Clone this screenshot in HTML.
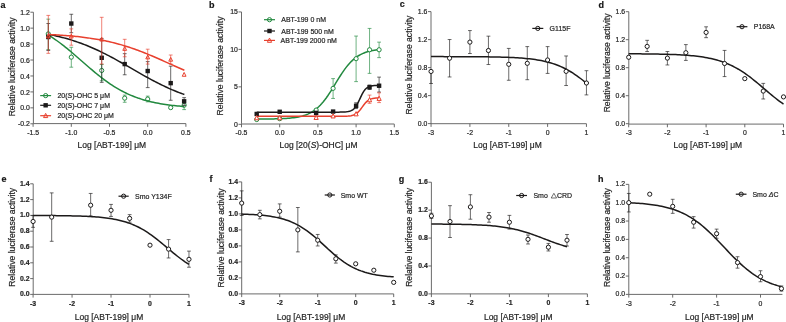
<!DOCTYPE html><html><head><meta charset="utf-8"><style>html,body{margin:0;padding:0;background:#fff;}svg{display:block;} text{stroke:#262626;stroke-width:0.2px;}#w{will-change:transform;width:786px;height:322px;overflow:hidden;background:#fff;}</style></head><body><div id="w">
<svg width="786" height="322" viewBox="0 0 786 322" font-family='"Liberation Sans", sans-serif'>
<rect width="786" height="322" fill="#fff"/>
<g>
<g stroke="#5a5a5a" stroke-width="0.9" fill="none">
<path d="M33.40,123.60 V12.21"/>
<path d="M33.40,123.60 H185.90" />
<path d="M33.10,123.60 v3.2"/>
<path d="M71.30,123.60 v3.2"/>
<path d="M109.50,123.60 v3.2"/>
<path d="M147.70,123.60 v3.2"/>
<path d="M185.90,123.60 v3.2"/>
<path d="M33.40,123.79 h-3.0"/>
<path d="M33.40,107.85 h-3.0"/>
<path d="M33.40,91.91 h-3.0"/>
<path d="M33.40,75.97 h-3.0"/>
<path d="M33.40,60.03 h-3.0"/>
<path d="M33.40,44.09 h-3.0"/>
<path d="M33.40,28.15 h-3.0"/>
<path d="M33.40,12.21 h-3.0"/>
</g>
<g fill="#262626" font-size="6.9" font-weight="normal" text-anchor="middle">
<text transform="translate(33.10,134.50) scale(1,1.1)">-1.5</text>
<text transform="translate(71.30,134.50) scale(1,1.1)">-1.0</text>
<text transform="translate(109.50,134.50) scale(1,1.1)">-0.5</text>
<text transform="translate(147.70,134.50) scale(1,1.1)">0.0</text>
<text transform="translate(185.90,134.50) scale(1,1.1)">0.5</text>
</g>
<g fill="#262626" font-size="6.9" font-weight="normal" text-anchor="end">
<text transform="translate(29.80,126.41) scale(1,1.1)">-0.2</text>
<text transform="translate(29.80,110.47) scale(1,1.1)">0.0</text>
<text transform="translate(29.80,94.53) scale(1,1.1)">0.2</text>
<text transform="translate(29.80,78.59) scale(1,1.1)">0.4</text>
<text transform="translate(29.80,62.65) scale(1,1.1)">0.6</text>
<text transform="translate(29.80,46.71) scale(1,1.1)">0.8</text>
<text transform="translate(29.80,30.77) scale(1,1.1)">1.0</text>
<text transform="translate(29.80,14.83) scale(1,1.1)">1.2</text>
</g>
<text transform="translate(14.90,66.90) rotate(-90)" text-anchor="middle" font-size="8.6" fill="#262626">Relative luciferase activity</text>
<text transform="translate(111.80,147.60) scale(1,1.1)" text-anchor="middle" font-size="8.5" fill="#262626">Log [ABT-199] μM</text>
<text x="0.60" y="7.80" font-size="9.0" font-weight="bold" fill="#111">a</text>
<g stroke="#22893f" stroke-width="0.65" fill="none">
<path d="M48.30,49.59 V19.14 M46.40,19.14 h3.8 M46.40,49.59 h3.8"/>
<path d="M71.30,67.20 V47.28 M69.40,47.28 h3.8 M69.40,67.20 h3.8"/>
<path d="M101.71,80.75 V64.49 M99.81,64.49 h3.8 M99.81,80.75 h3.8"/>
<path d="M124.70,102.27 V95.10 M122.80,95.10 h3.8 M122.80,102.27 h3.8"/>
<path d="M147.70,101.87 V96.13 M145.80,96.13 h3.8 M145.80,101.87 h3.8"/>
<path d="M184.14,109.60 V100.68 M182.24,100.68 h3.8 M182.24,109.60 h3.8"/>
</g>
<circle cx="48.30" cy="33.89" r="2.10" fill="#fff" stroke="#22893f" stroke-width="1.0"/>
<circle cx="71.30" cy="57.16" r="2.10" fill="#fff" stroke="#22893f" stroke-width="1.0"/>
<circle cx="101.71" cy="70.47" r="2.10" fill="#fff" stroke="#22893f" stroke-width="1.0"/>
<circle cx="124.70" cy="98.13" r="2.10" fill="#fff" stroke="#22893f" stroke-width="1.0"/>
<circle cx="147.70" cy="99.08" r="2.10" fill="#fff" stroke="#22893f" stroke-width="1.0"/>
<circle cx="170.70" cy="107.61" r="2.10" fill="#fff" stroke="#22893f" stroke-width="1.0"/>
<circle cx="184.14" cy="105.22" r="2.10" fill="#fff" stroke="#22893f" stroke-width="1.0"/>
<path d="M48.38,35.02 L50.10,36.09 L51.82,37.20 L53.54,38.34 L55.27,39.52 L56.99,40.74 L58.71,41.99 L60.43,43.27 L62.15,44.58 L63.87,45.92 L65.59,47.29 L67.32,48.68 L69.04,50.10 L70.76,51.54 L72.48,53.00 L74.20,54.47 L75.92,55.96 L77.64,57.45 L79.37,58.96 L81.09,60.47 L82.81,61.98 L84.53,63.49 L86.25,64.99 L87.97,66.49 L89.69,67.97 L91.42,69.44 L93.14,70.90 L94.86,72.34 L96.58,73.75 L98.30,75.14 L100.02,76.51 L101.74,77.85 L103.47,79.16 L105.19,80.43 L106.91,81.68 L108.63,82.89 L110.35,84.06 L112.07,85.21 L113.79,86.31 L115.52,87.38 L117.24,88.41 L118.96,89.40 L120.68,90.36 L122.40,91.28 L124.12,92.16 L125.84,93.01 L127.57,93.83 L129.29,94.60 L131.01,95.35 L132.73,96.06 L134.45,96.74 L136.17,97.38 L137.89,98.00 L139.62,98.58 L141.34,99.14 L143.06,99.67 L144.78,100.17 L146.50,100.65 L148.22,101.10 L149.94,101.53 L151.67,101.94 L153.39,102.33 L155.11,102.69 L156.83,103.03 L158.55,103.36 L160.27,103.67 L161.99,103.96 L163.71,104.23 L165.44,104.49 L167.16,104.74 L168.88,104.97 L170.60,105.19 L172.32,105.39 L174.04,105.58 L175.76,105.77 L177.49,105.94 L179.21,106.10 L180.93,106.25 L182.65,106.39 L184.37,106.53" stroke="#22893f" stroke-width="1.5" fill="none"/>
<g stroke="#1c1a1a" stroke-width="0.65" fill="none">
<path d="M48.30,50.47 V23.53 M46.40,23.53 h3.8 M46.40,50.47 h3.8"/>
<path d="M71.30,32.69 V14.28 M69.40,14.28 h3.8 M69.40,32.69 h3.8"/>
<path d="M101.71,82.35 V38.43 M99.81,38.43 h3.8 M99.81,82.35 h3.8"/>
<path d="M124.70,74.77 V53.65 M122.80,53.65 h3.8 M122.80,74.77 h3.8"/>
<path d="M147.70,87.61 V61.62 M145.80,61.62 h3.8 M145.80,87.61 h3.8"/>
<path d="M170.70,100.28 V66.17 M168.80,66.17 h3.8 M168.80,100.28 h3.8"/>
<path d="M184.14,105.46 V97.65 M182.24,97.65 h3.8 M182.24,105.46 h3.8"/>
</g>
<rect x="46.10" y="34.80" width="4.40" height="4.40" fill="#1c1a1a"/>
<rect x="69.10" y="21.33" width="4.40" height="4.40" fill="#1c1a1a"/>
<rect x="99.51" y="55.60" width="4.40" height="4.40" fill="#1c1a1a"/>
<rect x="122.50" y="61.89" width="4.40" height="4.40" fill="#1c1a1a"/>
<rect x="145.50" y="68.83" width="4.40" height="4.40" fill="#1c1a1a"/>
<rect x="168.50" y="80.94" width="4.40" height="4.40" fill="#1c1a1a"/>
<rect x="181.94" y="99.11" width="4.40" height="4.40" fill="#1c1a1a"/>
<path d="M48.38,34.33 L50.10,34.67 L51.82,35.02 L53.54,35.38 L55.27,35.76 L56.99,36.15 L58.71,36.56 L60.43,36.98 L62.15,37.42 L63.87,37.87 L65.59,38.34 L67.32,38.82 L69.04,39.32 L70.76,39.84 L72.48,40.38 L74.20,40.93 L75.92,41.50 L77.64,42.09 L79.37,42.70 L81.09,43.32 L82.81,43.96 L84.53,44.62 L86.25,45.30 L87.97,46.00 L89.69,46.71 L91.42,47.45 L93.14,48.20 L94.86,48.96 L96.58,49.75 L98.30,50.55 L100.02,51.37 L101.74,52.20 L103.47,53.05 L105.19,53.92 L106.91,54.80 L108.63,55.69 L110.35,56.60 L112.07,57.52 L113.79,58.45 L115.52,59.39 L117.24,60.34 L118.96,61.30 L120.68,62.26 L122.40,63.24 L124.12,64.22 L125.84,65.20 L127.57,66.19 L129.29,67.18 L131.01,68.17 L132.73,69.17 L134.45,70.16 L136.17,71.15 L137.89,72.14 L139.62,73.12 L141.34,74.10 L143.06,75.07 L144.78,76.04 L146.50,76.99 L148.22,77.94 L149.94,78.88 L151.67,79.81 L153.39,80.72 L155.11,81.62 L156.83,82.51 L158.55,83.39 L160.27,84.25 L161.99,85.09 L163.71,85.92 L165.44,86.74 L167.16,87.53 L168.88,88.31 L170.60,89.08 L172.32,89.82 L174.04,90.55 L175.76,91.26 L177.49,91.95 L179.21,92.62 L180.93,93.28 L182.65,93.91 L184.37,94.53" stroke="#1c1a1a" stroke-width="1.5" fill="none"/>
<g stroke="#e8402e" stroke-width="0.65" fill="none">
<path d="M48.30,53.34 V15.40 M46.40,15.40 h3.8 M46.40,53.34 h3.8"/>
<path d="M71.30,45.21 V28.87 M69.40,28.87 h3.8 M69.40,45.21 h3.8"/>
<path d="M101.71,64.01 V17.31 M99.81,17.31 h3.8 M99.81,64.01 h3.8"/>
<path d="M124.70,56.76 V39.31 M122.80,39.31 h3.8 M122.80,56.76 h3.8"/>
<path d="M147.70,64.09 V49.19 M145.80,49.19 h3.8 M145.80,64.09 h3.8"/>
<path d="M170.70,64.01 V55.01 M168.80,55.01 h3.8 M168.80,64.01 h3.8"/>
</g>
<path d="M48.30,34.03 L50.20,37.83 L46.40,37.83 Z" fill="none" stroke="#e8402e" stroke-width="1.0"/>
<path d="M71.30,34.19 L73.20,37.99 L69.40,37.99 Z" fill="none" stroke="#e8402e" stroke-width="1.0"/>
<path d="M101.71,37.22 L103.61,41.02 L99.81,41.02 Z" fill="none" stroke="#e8402e" stroke-width="1.0"/>
<path d="M124.70,46.54 L126.60,50.34 L122.80,50.34 Z" fill="none" stroke="#e8402e" stroke-width="1.0"/>
<path d="M147.70,55.07 L149.60,58.87 L145.80,58.87 Z" fill="none" stroke="#e8402e" stroke-width="1.0"/>
<path d="M170.70,57.38 L172.60,61.18 L168.80,61.18 Z" fill="none" stroke="#e8402e" stroke-width="1.0"/>
<path d="M184.14,72.45 L186.04,76.25 L182.24,76.25 Z" fill="none" stroke="#e8402e" stroke-width="1.0"/>
<path d="M48.38,34.46 L50.10,34.55 L51.82,34.64 L53.54,34.73 L55.27,34.83 L56.99,34.93 L58.71,35.04 L60.43,35.15 L62.15,35.27 L63.87,35.39 L65.59,35.52 L67.32,35.66 L69.04,35.80 L70.76,35.95 L72.48,36.11 L74.20,36.27 L75.92,36.44 L77.64,36.62 L79.37,36.81 L81.09,37.01 L82.81,37.21 L84.53,37.43 L86.25,37.65 L87.97,37.89 L89.69,38.13 L91.42,38.39 L93.14,38.65 L94.86,38.93 L96.58,39.22 L98.30,39.52 L100.02,39.83 L101.74,40.16 L103.47,40.50 L105.19,40.85 L106.91,41.21 L108.63,41.59 L110.35,41.99 L112.07,42.39 L113.79,42.82 L115.52,43.25 L117.24,43.70 L118.96,44.17 L120.68,44.65 L122.40,45.15 L124.12,45.66 L125.84,46.19 L127.57,46.73 L129.29,47.29 L131.01,47.86 L132.73,48.45 L134.45,49.05 L136.17,49.67 L137.89,50.30 L139.62,50.95 L141.34,51.61 L143.06,52.28 L144.78,52.96 L146.50,53.65 L148.22,54.36 L149.94,55.08 L151.67,55.80 L153.39,56.54 L155.11,57.28 L156.83,58.03 L158.55,58.78 L160.27,59.55 L161.99,60.31 L163.71,61.08 L165.44,61.85 L167.16,62.62 L168.88,63.39 L170.60,64.17 L172.32,64.93 L174.04,65.70 L175.76,66.46 L177.49,67.22 L179.21,67.98 L180.93,68.72 L182.65,69.46 L184.37,70.19" stroke="#e8402e" stroke-width="1.5" fill="none"/>
<path d="M40.20,95.60 H51.10" stroke="#22893f" stroke-width="1.2"/>
<circle cx="45.65" cy="95.60" r="2.10" fill="none" stroke="#22893f" stroke-width="1.0"/>
<text transform="translate(57.40,98.10) scale(1,1.1)" font-size="7" fill="#262626">20(<tspan style="font-style:italic">S</tspan>)-OHC 5 μM</text>
<path d="M40.20,105.30 H51.10" stroke="#1c1a1a" stroke-width="1.2"/>
<rect x="43.45" y="103.10" width="4.40" height="4.40" fill="#1c1a1a"/>
<text transform="translate(57.40,107.80) scale(1,1.1)" font-size="7" fill="#262626">20(<tspan style="font-style:italic">S</tspan>)-OHC 7 μM</text>
<path d="M40.20,115.70 H51.10" stroke="#e8402e" stroke-width="1.2"/>
<path d="M45.65,113.39 L47.75,117.59 L43.55,117.59 Z" fill="none" stroke="#e8402e" stroke-width="1.0"/>
<text transform="translate(57.40,118.20) scale(1,1.1)" font-size="7" fill="#262626">20(<tspan style="font-style:italic">S</tspan>)-OHC 20 μM</text>
<g stroke="#5a5a5a" stroke-width="0.9" fill="none">
<path d="M241.50,124.10 V11.95"/>
<path d="M241.50,124.10 H394.30" stroke="#9a9a9a" stroke-width="1.5"/>
<path d="M241.50,124.10 v3.2"/>
<path d="M279.70,124.10 v3.2"/>
<path d="M317.90,124.10 v3.2"/>
<path d="M356.10,124.10 v3.2"/>
<path d="M394.30,124.10 v3.2"/>
<path d="M241.50,124.30 h-3.0"/>
<path d="M241.50,86.85 h-3.0"/>
<path d="M241.50,49.40 h-3.0"/>
<path d="M241.50,11.95 h-3.0"/>
</g>
<g fill="#262626" font-size="6.9" font-weight="normal" text-anchor="middle">
<text transform="translate(241.50,135.00) scale(1,1.1)">-0.5</text>
<text transform="translate(279.70,135.00) scale(1,1.1)">0.0</text>
<text transform="translate(317.90,135.00) scale(1,1.1)">0.5</text>
<text transform="translate(356.10,135.00) scale(1,1.1)">1.0</text>
<text transform="translate(394.30,135.00) scale(1,1.1)">1.5</text>
</g>
<g fill="#262626" font-size="6.9" font-weight="normal" text-anchor="end">
<text transform="translate(237.90,126.78) scale(1,1.1)">0</text>
<text transform="translate(237.90,89.33) scale(1,1.1)">5</text>
<text transform="translate(237.90,51.88) scale(1,1.1)">10</text>
<text transform="translate(237.90,14.43) scale(1,1.1)">15</text>
</g>
<text transform="translate(223.30,66.00) rotate(-90)" text-anchor="middle" font-size="8.6" fill="#262626">Relative luciferase activity</text>
<text transform="translate(318.50,147.60) scale(1,1.1)" text-anchor="middle" font-size="8.5" fill="#262626">Log [20(<tspan style="font-style:italic">S</tspan>)-OHC] μM</text>
<text x="209.00" y="7.60" font-size="9.0" font-weight="bold" fill="#111">b</text>
<g stroke="#22893f" stroke-width="0.65" fill="none">
<path d="M333.10,98.46 V78.61 M331.20,78.61 h3.8 M331.20,98.46 h3.8"/>
<path d="M356.10,81.61 V36.07 M354.20,36.07 h3.8 M354.20,81.61 h3.8"/>
<path d="M369.55,73.37 V28.43 M367.65,28.43 h3.8 M367.65,73.37 h3.8"/>
<path d="M379.10,57.64 V42.13 M377.20,42.13 h3.8 M377.20,57.64 h3.8"/>
</g>
<g stroke="#1c1a1a" stroke-width="0.65" fill="none">
<path d="M356.10,108.57 V102.80 M354.20,102.80 h3.8 M354.20,108.57 h3.8"/>
<path d="M369.55,89.47 V84.98 M367.65,84.98 h3.8 M367.65,89.47 h3.8"/>
<path d="M379.10,92.09 V77.11 M377.20,77.11 h3.8 M377.20,92.09 h3.8"/>
</g>
<g stroke="#e8402e" stroke-width="0.65" fill="none">
<path d="M369.55,103.33 V95.09 M367.65,95.09 h3.8 M367.65,103.33 h3.8"/>
<path d="M379.10,102.58 V92.84 M377.20,92.84 h3.8 M377.20,102.58 h3.8"/>
</g>
<path d="M256.78,119.08 L258.33,119.07 L259.87,119.06 L261.42,119.05 L262.97,119.04 L264.52,119.03 L266.06,119.01 L267.61,119.00 L269.16,118.98 L270.71,118.95 L272.25,118.93 L273.80,118.90 L275.35,118.86 L276.90,118.82 L278.44,118.77 L279.99,118.72 L281.54,118.66 L283.08,118.59 L284.63,118.50 L286.18,118.41 L287.73,118.30 L289.27,118.17 L290.82,118.03 L292.37,117.86 L293.92,117.67 L295.46,117.45 L297.01,117.20 L298.56,116.91 L300.11,116.57 L301.65,116.20 L303.20,115.76 L304.75,115.27 L306.29,114.71 L307.84,114.07 L309.39,113.35 L310.94,112.54 L312.48,111.63 L314.03,110.61 L315.58,109.47 L317.13,108.20 L318.67,106.80 L320.22,105.27 L321.77,103.59 L323.32,101.77 L324.86,99.81 L326.41,97.73 L327.96,95.52 L329.51,93.20 L331.05,90.79 L332.60,88.31 L334.15,85.78 L335.69,83.23 L337.24,80.69 L338.79,78.18 L340.34,75.73 L341.88,73.35 L343.43,71.08 L344.98,68.92 L346.53,66.88 L348.07,64.98 L349.62,63.22 L351.17,61.60 L352.72,60.12 L354.26,58.78 L355.81,57.57 L357.36,56.48 L358.90,55.50 L360.45,54.63 L362.00,53.86 L363.55,53.18 L365.09,52.57 L366.64,52.04 L368.19,51.58 L369.74,51.17 L371.28,50.81 L372.83,50.50 L374.38,50.22 L375.93,49.98 L377.47,49.77 L379.02,49.59" stroke="#22893f" stroke-width="1.5" fill="none"/>
<path d="M256.78,112.17 L258.33,112.17 L259.87,112.17 L261.42,112.17 L262.97,112.17 L264.52,112.17 L266.06,112.17 L267.61,112.17 L269.16,112.17 L270.71,112.17 L272.25,112.17 L273.80,112.17 L275.35,112.17 L276.90,112.17 L278.44,112.17 L279.99,112.17 L281.54,112.17 L283.08,112.17 L284.63,112.17 L286.18,112.17 L287.73,112.17 L289.27,112.17 L290.82,112.17 L292.37,112.17 L293.92,112.17 L295.46,112.17 L297.01,112.17 L298.56,112.17 L300.11,112.17 L301.65,112.17 L303.20,112.17 L304.75,112.17 L306.29,112.17 L307.84,112.17 L309.39,112.17 L310.94,112.17 L312.48,112.17 L314.03,112.17 L315.58,112.17 L317.13,112.17 L318.67,112.17 L320.22,112.17 L321.77,112.17 L323.32,112.17 L324.86,112.17 L326.41,112.17 L327.96,112.17 L329.51,112.16 L331.05,112.16 L332.60,112.16 L334.15,112.16 L335.69,112.16 L337.24,112.15 L338.79,112.14 L340.34,112.12 L341.88,112.09 L343.43,112.04 L344.98,111.96 L346.53,111.82 L348.07,111.60 L349.62,111.25 L351.17,110.68 L352.72,109.80 L354.26,108.47 L355.81,106.57 L357.36,104.03 L358.90,100.95 L360.45,97.61 L362.00,94.40 L363.55,91.67 L365.09,89.57 L366.64,88.08 L368.19,87.07 L369.74,86.42 L371.28,86.01 L372.83,85.75 L374.38,85.60 L375.93,85.50 L377.47,85.44 L379.02,85.41" stroke="#1c1a1a" stroke-width="1.5" fill="none"/>
<path d="M256.78,116.29 L258.33,116.29 L259.87,116.29 L261.42,116.29 L262.97,116.29 L264.52,116.29 L266.06,116.29 L267.61,116.29 L269.16,116.29 L270.71,116.29 L272.25,116.29 L273.80,116.29 L275.35,116.29 L276.90,116.29 L278.44,116.29 L279.99,116.29 L281.54,116.29 L283.08,116.29 L284.63,116.29 L286.18,116.29 L287.73,116.29 L289.27,116.29 L290.82,116.29 L292.37,116.29 L293.92,116.29 L295.46,116.29 L297.01,116.29 L298.56,116.29 L300.11,116.29 L301.65,116.29 L303.20,116.29 L304.75,116.29 L306.29,116.29 L307.84,116.29 L309.39,116.29 L310.94,116.29 L312.48,116.29 L314.03,116.29 L315.58,116.29 L317.13,116.29 L318.67,116.29 L320.22,116.29 L321.77,116.29 L323.32,116.29 L324.86,116.29 L326.41,116.29 L327.96,116.29 L329.51,116.28 L331.05,116.28 L332.60,116.28 L334.15,116.28 L335.69,116.28 L337.24,116.28 L338.79,116.27 L340.34,116.26 L341.88,116.25 L343.43,116.22 L344.98,116.19 L346.53,116.13 L348.07,116.03 L349.62,115.89 L351.17,115.66 L352.72,115.30 L354.26,114.77 L355.81,113.98 L357.36,112.86 L358.90,111.36 L360.45,109.50 L362.00,107.40 L363.55,105.26 L365.09,103.29 L366.64,101.65 L368.19,100.40 L369.74,99.49 L371.28,98.87 L372.83,98.45 L374.38,98.18 L375.93,98.01 L377.47,97.90 L379.02,97.83" stroke="#e8402e" stroke-width="1.5" fill="none"/>
<circle cx="256.70" cy="119.51" r="2.10" fill="#fff" stroke="#22893f" stroke-width="1.0"/>
<circle cx="279.70" cy="118.68" r="2.10" fill="#fff" stroke="#22893f" stroke-width="1.0"/>
<circle cx="316.14" cy="110.07" r="2.10" fill="#fff" stroke="#22893f" stroke-width="1.0"/>
<circle cx="333.10" cy="88.35" r="2.10" fill="#fff" stroke="#22893f" stroke-width="1.0"/>
<circle cx="356.10" cy="58.69" r="2.10" fill="#fff" stroke="#22893f" stroke-width="1.0"/>
<circle cx="369.55" cy="49.77" r="2.10" fill="#fff" stroke="#22893f" stroke-width="1.0"/>
<circle cx="379.10" cy="49.77" r="2.10" fill="#fff" stroke="#22893f" stroke-width="1.0"/>
<rect x="254.50" y="111.76" width="4.40" height="4.40" fill="#1c1a1a"/>
<rect x="277.50" y="109.59" width="4.40" height="4.40" fill="#1c1a1a"/>
<rect x="313.94" y="110.72" width="4.40" height="4.40" fill="#1c1a1a"/>
<rect x="330.90" y="109.37" width="4.40" height="4.40" fill="#1c1a1a"/>
<rect x="353.90" y="103.60" width="4.40" height="4.40" fill="#1c1a1a"/>
<rect x="367.35" y="85.02" width="4.40" height="4.40" fill="#1c1a1a"/>
<rect x="376.90" y="83.53" width="4.40" height="4.40" fill="#1c1a1a"/>
<path d="M256.70,115.55 L258.80,119.75 L254.60,119.75 Z" fill="#fff" stroke="#e8402e" stroke-width="1.0"/>
<path d="M279.70,115.55 L281.80,119.75 L277.60,119.75 Z" fill="#fff" stroke="#e8402e" stroke-width="1.0"/>
<path d="M316.14,115.25 L318.24,119.45 L314.04,119.45 Z" fill="#fff" stroke="#e8402e" stroke-width="1.0"/>
<path d="M333.10,113.75 L335.20,117.95 L331.00,117.95 Z" fill="#fff" stroke="#e8402e" stroke-width="1.0"/>
<path d="M356.10,111.65 L358.20,115.85 L354.00,115.85 Z" fill="#fff" stroke="#e8402e" stroke-width="1.0"/>
<path d="M369.55,97.57 L371.65,101.77 L367.45,101.77 Z" fill="#fff" stroke="#e8402e" stroke-width="1.0"/>
<path d="M379.10,96.22 L381.20,100.42 L377.00,100.42 Z" fill="#fff" stroke="#e8402e" stroke-width="1.0"/>
<path d="M264.00,19.70 H275.00" stroke="#22893f" stroke-width="1.2"/>
<circle cx="269.50" cy="19.70" r="2.10" fill="none" stroke="#22893f" stroke-width="1.0"/>
<text transform="translate(281.30,22.20) scale(1,1.1)" font-size="7" fill="#262626">ABT-199 0 nM</text>
<path d="M264.00,31.00 H275.00" stroke="#1c1a1a" stroke-width="1.2"/>
<rect x="267.30" y="28.80" width="4.40" height="4.40" fill="#1c1a1a"/>
<text transform="translate(281.30,33.50) scale(1,1.1)" font-size="7" fill="#262626">ABT-199 500 nM</text>
<path d="M264.00,40.40 H275.00" stroke="#e8402e" stroke-width="1.2"/>
<path d="M269.50,38.09 L271.60,42.29 L267.40,42.29 Z" fill="none" stroke="#e8402e" stroke-width="1.0"/>
<text transform="translate(280.60,42.90) scale(1,1.1)" font-size="7" fill="#262626">ABT-199 2000 nM</text>
<g stroke="#5a5a5a" stroke-width="0.9" fill="none">
<path d="M431.00,123.70 V11.60"/>
<path d="M431.00,123.70 H586.45" />
<path d="M431.05,123.70 v3.2"/>
<path d="M469.90,123.70 v3.2"/>
<path d="M508.75,123.70 v3.2"/>
<path d="M547.60,123.70 v3.2"/>
<path d="M586.45,123.70 v3.2"/>
<path d="M431.00,123.60 h-3.0"/>
<path d="M431.00,95.60 h-3.0"/>
<path d="M431.00,67.60 h-3.0"/>
<path d="M431.00,39.60 h-3.0"/>
<path d="M431.00,11.60 h-3.0"/>
</g>
<g fill="#262626" font-size="6.9" font-weight="normal" text-anchor="middle">
<text transform="translate(431.05,134.60) scale(1,1.1)">-3</text>
<text transform="translate(469.90,134.60) scale(1,1.1)">-2</text>
<text transform="translate(508.75,134.60) scale(1,1.1)">-1</text>
<text transform="translate(547.60,134.60) scale(1,1.1)">0</text>
<text transform="translate(586.45,134.60) scale(1,1.1)">1</text>
</g>
<g fill="#262626" font-size="6.9" font-weight="normal" text-anchor="end">
<text transform="translate(427.40,125.53) scale(1,1.1)">0.0</text>
<text transform="translate(427.40,97.53) scale(1,1.1)">0.4</text>
<text transform="translate(427.40,69.53) scale(1,1.1)">0.8</text>
<text transform="translate(427.40,41.53) scale(1,1.1)">1.2</text>
<text transform="translate(427.40,13.53) scale(1,1.1)">1.6</text>
</g>
<text transform="translate(412.40,65.10) rotate(-90)" text-anchor="middle" font-size="8.6" fill="#262626">Relative luciferase activity</text>
<text transform="translate(507.50,147.60) scale(1,1.1)" text-anchor="middle" font-size="8.5" fill="#262626">Log [ABT-199] μM</text>
<text x="399.80" y="7.40" font-size="9.0" font-weight="bold" fill="#111">c</text>
<g stroke="#1c1a1a" stroke-width="0.65" fill="none">
<path d="M431.05,83.49 V71.45 M429.15,71.45 h3.8 M429.15,83.49 h3.8"/>
<path d="M449.58,76.98 V39.53 M447.68,39.53 h3.8 M447.68,76.98 h3.8"/>
<path d="M469.90,53.53 V30.57 M468.00,30.57 h3.8 M468.00,53.53 h3.8"/>
<path d="M488.43,64.52 V36.17 M486.53,36.17 h3.8 M486.53,64.52 h3.8"/>
<path d="M508.75,80.27 V48.42 M506.85,48.42 h3.8 M506.85,80.27 h3.8"/>
<path d="M527.28,79.71 V46.60 M525.38,46.60 h3.8 M525.38,79.71 h3.8"/>
<path d="M547.60,73.41 V46.60 M545.70,46.60 h3.8 M545.70,73.41 h3.8"/>
<path d="M566.13,85.52 V55.98 M564.23,55.98 h3.8 M564.23,85.52 h3.8"/>
<path d="M586.45,94.90 V70.68 M584.55,70.68 h3.8 M584.55,94.90 h3.8"/>
</g>
<path d="M431.05,56.61 L433.02,56.61 L434.98,56.61 L436.95,56.62 L438.92,56.62 L440.89,56.62 L442.85,56.62 L444.82,56.63 L446.79,56.63 L448.75,56.63 L450.72,56.64 L452.69,56.64 L454.66,56.65 L456.62,56.65 L458.59,56.66 L460.56,56.66 L462.52,56.67 L464.49,56.68 L466.46,56.69 L468.42,56.70 L470.39,56.71 L472.36,56.72 L474.33,56.73 L476.29,56.75 L478.26,56.76 L480.23,56.78 L482.19,56.80 L484.16,56.82 L486.13,56.84 L488.10,56.87 L490.06,56.90 L492.03,56.93 L494.00,56.97 L495.96,57.01 L497.93,57.05 L499.90,57.10 L501.87,57.15 L503.83,57.21 L505.80,57.28 L507.77,57.35 L509.73,57.43 L511.70,57.52 L513.67,57.61 L515.63,57.72 L517.60,57.84 L519.57,57.97 L521.54,58.11 L523.50,58.27 L525.47,58.44 L527.44,58.63 L529.40,58.84 L531.37,59.07 L533.34,59.33 L535.31,59.61 L537.27,59.91 L539.24,60.25 L541.21,60.61 L543.17,61.01 L545.14,61.45 L547.11,61.93 L549.08,62.45 L551.04,63.02 L553.01,63.63 L554.98,64.29 L556.94,65.01 L558.91,65.79 L560.88,66.62 L562.84,67.52 L564.81,68.48 L566.78,69.51 L568.75,70.60 L570.71,71.75 L572.68,72.98 L574.65,74.26 L576.61,75.62 L578.58,77.03 L580.55,78.50 L582.52,80.02 L584.48,81.59 L586.45,83.20" stroke="#1c1a1a" stroke-width="1.5" fill="none"/>
<circle cx="431.05" cy="71.45" r="2.10" fill="#fff" stroke="#1c1a1a" stroke-width="1.0"/>
<circle cx="449.58" cy="58.22" r="2.10" fill="#fff" stroke="#1c1a1a" stroke-width="1.0"/>
<circle cx="469.90" cy="42.12" r="2.10" fill="#fff" stroke="#1c1a1a" stroke-width="1.0"/>
<circle cx="488.43" cy="50.52" r="2.10" fill="#fff" stroke="#1c1a1a" stroke-width="1.0"/>
<circle cx="508.75" cy="64.31" r="2.10" fill="#fff" stroke="#1c1a1a" stroke-width="1.0"/>
<circle cx="527.28" cy="63.33" r="2.10" fill="#fff" stroke="#1c1a1a" stroke-width="1.0"/>
<circle cx="547.60" cy="59.97" r="2.10" fill="#fff" stroke="#1c1a1a" stroke-width="1.0"/>
<circle cx="566.13" cy="71.38" r="2.10" fill="#fff" stroke="#1c1a1a" stroke-width="1.0"/>
<circle cx="586.45" cy="83.00" r="2.10" fill="#fff" stroke="#1c1a1a" stroke-width="1.0"/>
<path d="M532.30,28.40 H543.30" stroke="#1c1a1a" stroke-width="1.2"/>
<circle cx="537.80" cy="28.40" r="2.10" fill="none" stroke="#1c1a1a" stroke-width="1.0"/>
<text transform="translate(549.60,30.90) scale(1,1.1)" font-size="7" fill="#262626">G115F</text>
<g stroke="#5a5a5a" stroke-width="0.9" fill="none">
<path d="M628.80,124.10 V11.70"/>
<path d="M628.80,124.10 H783.50" />
<path d="M628.70,124.10 v3.2"/>
<path d="M667.40,124.10 v3.2"/>
<path d="M706.10,124.10 v3.2"/>
<path d="M744.80,124.10 v3.2"/>
<path d="M783.50,124.10 v3.2"/>
<path d="M628.80,123.70 h-3.0"/>
<path d="M628.80,95.70 h-3.0"/>
<path d="M628.80,67.70 h-3.0"/>
<path d="M628.80,39.70 h-3.0"/>
<path d="M628.80,11.70 h-3.0"/>
</g>
<g fill="#262626" font-size="6.9" font-weight="normal" text-anchor="middle">
<text transform="translate(628.70,135.00) scale(1,1.1)">-3</text>
<text transform="translate(667.40,135.00) scale(1,1.1)">-2</text>
<text transform="translate(706.10,135.00) scale(1,1.1)">-1</text>
<text transform="translate(744.80,135.00) scale(1,1.1)">0</text>
<text transform="translate(783.50,135.00) scale(1,1.1)">1</text>
</g>
<g fill="#262626" font-size="6.9" font-weight="normal" text-anchor="end">
<text transform="translate(625.20,125.63) scale(1,1.1)">0.0</text>
<text transform="translate(625.20,97.63) scale(1,1.1)">0.4</text>
<text transform="translate(625.20,69.63) scale(1,1.1)">0.8</text>
<text transform="translate(625.20,41.63) scale(1,1.1)">1.2</text>
<text transform="translate(625.20,13.63) scale(1,1.1)">1.6</text>
</g>
<text transform="translate(609.90,62.90) rotate(-90)" text-anchor="middle" font-size="8.6" fill="#262626">Relative luciferase activity</text>
<text transform="translate(707.80,147.60) scale(1,1.1)" text-anchor="middle" font-size="8.5" fill="#262626">Log [ABT-199] μM</text>
<text x="598.40" y="7.70" font-size="9.0" font-weight="bold" fill="#111">d</text>
<g stroke="#1c1a1a" stroke-width="0.65" fill="none">
<path d="M647.16,51.53 V40.33 M645.26,40.33 h3.8 M645.26,51.53 h3.8"/>
<path d="M667.40,64.97 V51.53 M665.50,51.53 h3.8 M665.50,64.97 h3.8"/>
<path d="M685.86,60.42 V44.60 M683.96,44.60 h3.8 M683.96,60.42 h3.8"/>
<path d="M706.10,37.67 V26.82 M704.20,26.82 h3.8 M704.20,37.67 h3.8"/>
<path d="M724.56,76.59 V50.41 M722.66,50.41 h3.8 M722.66,76.59 h3.8"/>
<path d="M763.26,98.99 V83.38 M761.36,83.38 h3.8 M761.36,98.99 h3.8"/>
</g>
<path d="M628.70,53.79 L630.66,53.80 L632.62,53.81 L634.58,53.83 L636.54,53.84 L638.50,53.85 L640.46,53.87 L642.42,53.88 L644.38,53.90 L646.34,53.92 L648.29,53.94 L650.25,53.97 L652.21,54.00 L654.17,54.03 L656.13,54.06 L658.09,54.09 L660.05,54.13 L662.01,54.18 L663.97,54.22 L665.93,54.28 L667.89,54.33 L669.85,54.40 L671.81,54.47 L673.77,54.54 L675.73,54.62 L677.69,54.72 L679.65,54.82 L681.61,54.93 L683.57,55.05 L685.53,55.18 L687.48,55.32 L689.44,55.48 L691.40,55.66 L693.36,55.85 L695.32,56.05 L697.28,56.28 L699.24,56.53 L701.20,56.80 L703.16,57.10 L705.12,57.42 L707.08,57.77 L709.04,58.15 L711.00,58.57 L712.96,59.02 L714.92,59.51 L716.88,60.04 L718.84,60.62 L720.80,61.23 L722.76,61.90 L724.72,62.62 L726.67,63.39 L728.63,64.22 L730.59,65.10 L732.55,66.04 L734.51,67.04 L736.47,68.11 L738.43,69.23 L740.39,70.42 L742.35,71.66 L744.31,72.97 L746.27,74.33 L748.23,75.75 L750.19,77.22 L752.15,78.74 L754.11,80.29 L756.07,81.89 L758.03,83.51 L759.99,85.16 L761.95,86.82 L763.91,88.49 L765.86,90.16 L767.82,91.83 L769.78,93.48 L771.74,95.11 L773.70,96.71 L775.66,98.28 L777.62,99.81 L779.58,101.29 L781.54,102.72 L783.50,104.09" stroke="#1c1a1a" stroke-width="1.5" fill="none"/>
<circle cx="628.70" cy="57.27" r="2.10" fill="#fff" stroke="#1c1a1a" stroke-width="1.0"/>
<circle cx="647.16" cy="46.42" r="2.10" fill="#fff" stroke="#1c1a1a" stroke-width="1.0"/>
<circle cx="667.40" cy="58.11" r="2.10" fill="#fff" stroke="#1c1a1a" stroke-width="1.0"/>
<circle cx="685.86" cy="52.72" r="2.10" fill="#fff" stroke="#1c1a1a" stroke-width="1.0"/>
<circle cx="706.10" cy="32.42" r="2.10" fill="#fff" stroke="#1c1a1a" stroke-width="1.0"/>
<circle cx="724.56" cy="63.50" r="2.10" fill="#fff" stroke="#1c1a1a" stroke-width="1.0"/>
<circle cx="744.80" cy="78.62" r="2.10" fill="#fff" stroke="#1c1a1a" stroke-width="1.0"/>
<circle cx="763.26" cy="91.08" r="2.10" fill="#fff" stroke="#1c1a1a" stroke-width="1.0"/>
<circle cx="783.50" cy="96.89" r="2.10" fill="#fff" stroke="#1c1a1a" stroke-width="1.0"/>
<path d="M736.60,26.70 H747.40" stroke="#1c1a1a" stroke-width="1.2"/>
<circle cx="742.00" cy="26.70" r="2.10" fill="none" stroke="#1c1a1a" stroke-width="1.0"/>
<text transform="translate(753.80,29.20) scale(1,1.1)" font-size="7" fill="#262626">P168A</text>
<g stroke="#5a5a5a" stroke-width="0.9" fill="none">
<path d="M33.20,294.40 V183.80"/>
<path d="M33.20,294.40 H188.97" />
<path d="M33.09,294.40 v3.2"/>
<path d="M72.06,294.40 v3.2"/>
<path d="M111.03,294.40 v3.2"/>
<path d="M150.00,294.40 v3.2"/>
<path d="M188.97,294.40 v3.2"/>
<path d="M33.20,294.40 h-3.0"/>
<path d="M33.20,278.60 h-3.0"/>
<path d="M33.20,262.80 h-3.0"/>
<path d="M33.20,247.00 h-3.0"/>
<path d="M33.20,231.20 h-3.0"/>
<path d="M33.20,215.40 h-3.0"/>
<path d="M33.20,199.60 h-3.0"/>
<path d="M33.20,183.80 h-3.0"/>
</g>
<g fill="#262626" font-size="6.9" font-weight="bold" text-anchor="middle">
<text transform="translate(33.09,305.80) scale(1,1.1)">-3</text>
<text transform="translate(72.06,305.80) scale(1,1.1)">-2</text>
<text transform="translate(111.03,305.80) scale(1,1.1)">-1</text>
<text transform="translate(150.00,305.80) scale(1,1.1)">0</text>
<text transform="translate(188.97,305.80) scale(1,1.1)">1</text>
</g>
<g fill="#262626" font-size="6.9" font-weight="bold" text-anchor="end">
<text transform="translate(29.60,296.33) scale(1,1.1)">0.0</text>
<text transform="translate(29.60,280.53) scale(1,1.1)">0.2</text>
<text transform="translate(29.60,264.73) scale(1,1.1)">0.4</text>
<text transform="translate(29.60,248.93) scale(1,1.1)">0.6</text>
<text transform="translate(29.60,233.13) scale(1,1.1)">0.8</text>
<text transform="translate(29.60,217.33) scale(1,1.1)">1.0</text>
<text transform="translate(29.60,201.53) scale(1,1.1)">1.2</text>
<text transform="translate(29.60,185.73) scale(1,1.1)">1.4</text>
</g>
<text transform="translate(15.20,237.30) rotate(-90)" text-anchor="middle" font-size="8.6" fill="#262626">Relative luciferase activity</text>
<text transform="translate(109.00,320.00) scale(1,1.1)" text-anchor="middle" font-size="8.5" fill="#262626">Log [ABT-199] μM</text>
<text x="1.60" y="181.60" font-size="9.0" font-weight="bold" fill="#111">e</text>
<g stroke="#1c1a1a" stroke-width="0.65" fill="none">
<path d="M33.09,227.33 V215.64 M31.19,215.64 h3.8 M31.19,227.33 h3.8"/>
<path d="M51.68,241.31 V192.88 M49.78,192.88 h3.8 M49.78,241.31 h3.8"/>
<path d="M90.65,215.87 V193.44 M88.75,193.44 h3.8 M88.75,215.87 h3.8"/>
<path d="M111.03,216.43 V204.42 M109.13,204.42 h3.8 M109.13,216.43 h3.8"/>
<path d="M129.62,222.19 V214.61 M127.72,214.61 h3.8 M127.72,222.19 h3.8"/>
<path d="M168.59,257.98 V239.57 M166.69,239.57 h3.8 M166.69,257.98 h3.8"/>
<path d="M188.97,267.22 V251.11 M187.07,251.11 h3.8 M187.07,267.22 h3.8"/>
</g>
<path d="M33.09,215.50 L35.06,215.50 L37.04,215.51 L39.01,215.52 L40.98,215.52 L42.96,215.53 L44.93,215.54 L46.90,215.56 L48.88,215.57 L50.85,215.58 L52.82,215.60 L54.79,215.61 L56.77,215.63 L58.74,215.65 L60.71,215.68 L62.69,215.70 L64.66,215.73 L66.63,215.77 L68.61,215.80 L70.58,215.84 L72.55,215.88 L74.53,215.93 L76.50,215.98 L78.47,216.04 L80.45,216.11 L82.42,216.18 L84.39,216.26 L86.37,216.35 L88.34,216.45 L90.31,216.56 L92.28,216.68 L94.26,216.81 L96.23,216.96 L98.20,217.12 L100.18,217.30 L102.15,217.49 L104.12,217.71 L106.10,217.95 L108.07,218.21 L110.04,218.50 L112.02,218.82 L113.99,219.16 L115.96,219.55 L117.94,219.96 L119.91,220.42 L121.88,220.92 L123.86,221.46 L125.83,222.05 L127.80,222.70 L129.78,223.39 L131.75,224.14 L133.72,224.96 L135.69,225.83 L137.67,226.77 L139.64,227.77 L141.61,228.83 L143.59,229.97 L145.56,231.17 L147.53,232.44 L149.51,233.77 L151.48,235.16 L153.45,236.61 L155.43,238.11 L157.40,239.65 L159.37,241.24 L161.35,242.86 L163.32,244.50 L165.29,246.16 L167.27,247.83 L169.24,249.50 L171.21,251.16 L173.18,252.80 L175.16,254.41 L177.13,255.99 L179.10,257.52 L181.08,259.01 L183.05,260.44 L185.02,261.82 L187.00,263.13 L188.97,264.38" stroke="#1c1a1a" stroke-width="1.5" fill="none"/>
<circle cx="33.09" cy="221.48" r="2.10" fill="#fff" stroke="#1c1a1a" stroke-width="1.0"/>
<circle cx="51.68" cy="217.14" r="2.10" fill="#fff" stroke="#1c1a1a" stroke-width="1.0"/>
<circle cx="90.65" cy="205.21" r="2.10" fill="#fff" stroke="#1c1a1a" stroke-width="1.0"/>
<circle cx="111.03" cy="210.26" r="2.10" fill="#fff" stroke="#1c1a1a" stroke-width="1.0"/>
<circle cx="129.62" cy="218.40" r="2.10" fill="#fff" stroke="#1c1a1a" stroke-width="1.0"/>
<circle cx="150.00" cy="245.18" r="2.10" fill="#fff" stroke="#1c1a1a" stroke-width="1.0"/>
<circle cx="168.59" cy="249.13" r="2.10" fill="#fff" stroke="#1c1a1a" stroke-width="1.0"/>
<circle cx="188.97" cy="259.32" r="2.10" fill="#fff" stroke="#1c1a1a" stroke-width="1.0"/>
<path d="M118.50,196.20 H128.70" stroke="#1c1a1a" stroke-width="1.2"/>
<circle cx="123.60" cy="196.20" r="2.10" fill="none" stroke="#1c1a1a" stroke-width="1.0"/>
<text transform="translate(135.00,198.70) scale(1,1.1)" font-size="7" fill="#262626">Smo Y134F</text>
<g stroke="#5a5a5a" stroke-width="0.9" fill="none">
<path d="M241.70,293.90 V181.90"/>
<path d="M241.70,293.90 H393.70" />
<path d="M241.70,293.90 v3.2"/>
<path d="M279.70,293.90 v3.2"/>
<path d="M317.70,293.90 v3.2"/>
<path d="M355.70,293.90 v3.2"/>
<path d="M393.70,293.90 v3.2"/>
<path d="M241.70,293.90 h-3.0"/>
<path d="M241.70,277.90 h-3.0"/>
<path d="M241.70,261.90 h-3.0"/>
<path d="M241.70,245.90 h-3.0"/>
<path d="M241.70,229.90 h-3.0"/>
<path d="M241.70,213.90 h-3.0"/>
<path d="M241.70,197.90 h-3.0"/>
<path d="M241.70,181.90 h-3.0"/>
</g>
<g fill="#262626" font-size="6.9" font-weight="bold" text-anchor="middle">
<text transform="translate(241.70,305.30) scale(1,1.1)">-3</text>
<text transform="translate(279.70,305.30) scale(1,1.1)">-2</text>
<text transform="translate(317.70,305.30) scale(1,1.1)">-1</text>
<text transform="translate(355.70,305.30) scale(1,1.1)">0</text>
<text transform="translate(393.70,305.30) scale(1,1.1)">1</text>
</g>
<g fill="#262626" font-size="6.9" font-weight="bold" text-anchor="end">
<text transform="translate(238.10,295.83) scale(1,1.1)">0.0</text>
<text transform="translate(238.10,279.83) scale(1,1.1)">0.2</text>
<text transform="translate(238.10,263.83) scale(1,1.1)">0.4</text>
<text transform="translate(238.10,247.83) scale(1,1.1)">0.6</text>
<text transform="translate(238.10,231.83) scale(1,1.1)">0.8</text>
<text transform="translate(238.10,215.83) scale(1,1.1)">1.0</text>
<text transform="translate(238.10,199.83) scale(1,1.1)">1.2</text>
<text transform="translate(238.10,183.83) scale(1,1.1)">1.4</text>
</g>
<text transform="translate(224.30,238.00) rotate(-90)" text-anchor="middle" font-size="8.6" fill="#262626">Relative luciferase activity</text>
<text transform="translate(311.00,320.00) scale(1,1.1)" text-anchor="middle" font-size="8.5" fill="#262626">Log [ABT-199] μM</text>
<text x="209.60" y="181.60" font-size="9.0" font-weight="bold" fill="#111">f</text>
<g stroke="#1c1a1a" stroke-width="0.65" fill="none">
<path d="M241.70,215.50 V190.86 M239.80,190.86 h3.8 M239.80,215.50 h3.8"/>
<path d="M259.83,218.86 V210.30 M257.93,210.30 h3.8 M257.93,218.86 h3.8"/>
<path d="M279.70,217.10 V203.90 M277.80,203.90 h3.8 M277.80,217.10 h3.8"/>
<path d="M297.83,251.90 V207.50 M295.93,207.50 h3.8 M295.93,251.90 h3.8"/>
<path d="M317.70,245.98 V234.46 M315.80,234.46 h3.8 M315.80,245.98 h3.8"/>
<path d="M335.83,263.10 V254.90 M333.93,254.90 h3.8 M333.93,263.10 h3.8"/>
</g>
<path d="M241.70,214.09 L243.62,214.15 L245.55,214.22 L247.47,214.30 L249.40,214.39 L251.32,214.49 L253.24,214.60 L255.17,214.73 L257.09,214.86 L259.02,215.01 L260.94,215.18 L262.86,215.37 L264.79,215.58 L266.71,215.81 L268.64,216.06 L270.56,216.34 L272.48,216.65 L274.41,217.00 L276.33,217.38 L278.26,217.80 L280.18,218.26 L282.11,218.76 L284.03,219.31 L285.95,219.92 L287.88,220.58 L289.80,221.30 L291.73,222.09 L293.65,222.94 L295.57,223.86 L297.50,224.84 L299.42,225.91 L301.35,227.04 L303.27,228.26 L305.19,229.54 L307.12,230.90 L309.04,232.33 L310.97,233.83 L312.89,235.39 L314.81,237.01 L316.74,238.67 L318.66,240.38 L320.59,242.12 L322.51,243.88 L324.43,245.65 L326.36,247.42 L328.28,249.18 L330.21,250.93 L332.13,252.64 L334.05,254.31 L335.98,255.94 L337.90,257.51 L339.83,259.02 L341.75,260.46 L343.67,261.83 L345.60,263.13 L347.52,264.36 L349.45,265.51 L351.37,266.58 L353.29,267.59 L355.22,268.52 L357.14,269.38 L359.07,270.18 L360.99,270.91 L362.92,271.58 L364.84,272.20 L366.76,272.76 L368.69,273.27 L370.61,273.74 L372.54,274.17 L374.46,274.55 L376.38,274.90 L378.31,275.22 L380.23,275.51 L382.16,275.77 L384.08,276.00 L386.00,276.21 L387.93,276.40 L389.85,276.57 L391.78,276.73 L393.70,276.87" stroke="#1c1a1a" stroke-width="1.5" fill="none"/>
<circle cx="241.70" cy="203.10" r="2.10" fill="#fff" stroke="#1c1a1a" stroke-width="1.0"/>
<circle cx="259.83" cy="214.62" r="2.10" fill="#fff" stroke="#1c1a1a" stroke-width="1.0"/>
<circle cx="279.70" cy="211.26" r="2.10" fill="#fff" stroke="#1c1a1a" stroke-width="1.0"/>
<circle cx="297.83" cy="229.90" r="2.10" fill="#fff" stroke="#1c1a1a" stroke-width="1.0"/>
<circle cx="317.70" cy="240.22" r="2.10" fill="#fff" stroke="#1c1a1a" stroke-width="1.0"/>
<circle cx="335.83" cy="258.78" r="2.10" fill="#fff" stroke="#1c1a1a" stroke-width="1.0"/>
<circle cx="355.70" cy="263.82" r="2.10" fill="#fff" stroke="#1c1a1a" stroke-width="1.0"/>
<circle cx="373.83" cy="270.22" r="2.10" fill="#fff" stroke="#1c1a1a" stroke-width="1.0"/>
<circle cx="393.70" cy="282.38" r="2.10" fill="#fff" stroke="#1c1a1a" stroke-width="1.0"/>
<path d="M324.70,195.00 H334.90" stroke="#1c1a1a" stroke-width="1.2"/>
<circle cx="329.80" cy="195.00" r="2.10" fill="none" stroke="#1c1a1a" stroke-width="1.0"/>
<text transform="translate(340.70,197.50) scale(1,1.1)" font-size="7" fill="#262626">Smo WT</text>
<g stroke="#5a5a5a" stroke-width="0.9" fill="none">
<path d="M431.40,293.90 V182.22"/>
<path d="M431.40,293.90 H587.40" />
<path d="M431.40,293.90 v3.2"/>
<path d="M470.40,293.90 v3.2"/>
<path d="M509.40,293.90 v3.2"/>
<path d="M548.40,293.90 v3.2"/>
<path d="M587.40,293.90 v3.2"/>
<path d="M431.40,293.90 h-3.0"/>
<path d="M431.40,265.98 h-3.0"/>
<path d="M431.40,238.06 h-3.0"/>
<path d="M431.40,210.14 h-3.0"/>
<path d="M431.40,182.22 h-3.0"/>
</g>
<g fill="#262626" font-size="6.9" font-weight="bold" text-anchor="middle">
<text transform="translate(431.40,305.30) scale(1,1.1)">-3</text>
<text transform="translate(470.40,305.30) scale(1,1.1)">-2</text>
<text transform="translate(509.40,305.30) scale(1,1.1)">-1</text>
<text transform="translate(548.40,305.30) scale(1,1.1)">0</text>
<text transform="translate(587.40,305.30) scale(1,1.1)">1</text>
</g>
<g fill="#262626" font-size="6.9" font-weight="bold" text-anchor="end">
<text transform="translate(427.80,295.83) scale(1,1.1)">0.0</text>
<text transform="translate(427.80,267.91) scale(1,1.1)">0.4</text>
<text transform="translate(427.80,239.99) scale(1,1.1)">0.8</text>
<text transform="translate(427.80,212.07) scale(1,1.1)">1.2</text>
<text transform="translate(427.80,184.15) scale(1,1.1)">1.6</text>
</g>
<text transform="translate(412.20,237.40) rotate(-90)" text-anchor="middle" font-size="8.6" fill="#262626">Relative luciferase activity</text>
<text transform="translate(518.20,320.00) scale(1,1.1)" text-anchor="middle" font-size="8.5" fill="#262626">Log [ABT-199] μM</text>
<text x="398.80" y="181.60" font-size="9.0" font-weight="bold" fill="#111">g</text>
<g stroke="#1c1a1a" stroke-width="0.65" fill="none">
<path d="M431.40,218.38 V213.28 M429.50,213.28 h3.8 M429.50,218.38 h3.8"/>
<path d="M450.00,237.50 V205.67 M448.10,205.67 h3.8 M448.10,237.50 h3.8"/>
<path d="M470.40,219.21 V194.71 M468.50,194.71 h3.8 M468.50,219.21 h3.8"/>
<path d="M489.00,222.22 V212.51 M487.10,212.51 h3.8 M487.10,222.22 h3.8"/>
<path d="M509.40,229.13 V215.38 M507.50,215.38 h3.8 M507.50,229.13 h3.8"/>
<path d="M528.00,243.99 V234.99 M526.10,234.99 h3.8 M526.10,243.99 h3.8"/>
<path d="M548.40,250.97 V243.43 M546.50,243.43 h3.8 M546.50,250.97 h3.8"/>
<path d="M567.00,246.02 V234.50 M565.10,234.50 h3.8 M565.10,246.02 h3.8"/>
</g>
<path d="M431.40,224.06 L433.12,224.07 L434.83,224.08 L436.55,224.09 L438.27,224.10 L439.98,224.11 L441.70,224.12 L443.42,224.14 L445.13,224.15 L446.85,224.16 L448.56,224.18 L450.28,224.20 L452.00,224.22 L453.71,224.24 L455.43,224.27 L457.15,224.29 L458.86,224.32 L460.58,224.35 L462.30,224.39 L464.01,224.43 L465.73,224.47 L467.45,224.51 L469.16,224.56 L470.88,224.62 L472.60,224.67 L474.31,224.74 L476.03,224.81 L477.75,224.88 L479.46,224.96 L481.18,225.05 L482.89,225.15 L484.61,225.25 L486.33,225.36 L488.04,225.49 L489.76,225.62 L491.48,225.77 L493.19,225.92 L494.91,226.09 L496.63,226.27 L498.34,226.47 L500.06,226.68 L501.78,226.91 L503.49,227.15 L505.21,227.42 L506.93,227.70 L508.64,228.00 L510.36,228.32 L512.08,228.66 L513.79,229.03 L515.51,229.41 L517.22,229.82 L518.94,230.25 L520.66,230.71 L522.37,231.18 L524.09,231.68 L525.81,232.20 L527.52,232.75 L529.24,233.31 L530.96,233.89 L532.67,234.49 L534.39,235.10 L536.11,235.73 L537.82,236.37 L539.54,237.02 L541.26,237.67 L542.97,238.33 L544.69,238.99 L546.41,239.65 L548.12,240.31 L549.84,240.96 L551.55,241.60 L553.27,242.24 L554.99,242.85 L556.70,243.46 L558.42,244.04 L560.14,244.61 L561.85,245.16 L563.57,245.68 L565.29,246.19 L567.00,246.67" stroke="#1c1a1a" stroke-width="1.5" fill="none"/>
<circle cx="431.40" cy="215.93" r="2.10" fill="#fff" stroke="#1c1a1a" stroke-width="1.0"/>
<circle cx="450.00" cy="221.52" r="2.10" fill="#fff" stroke="#1c1a1a" stroke-width="1.0"/>
<circle cx="470.40" cy="206.93" r="2.10" fill="#fff" stroke="#1c1a1a" stroke-width="1.0"/>
<circle cx="489.00" cy="217.12" r="2.10" fill="#fff" stroke="#1c1a1a" stroke-width="1.0"/>
<circle cx="509.40" cy="222.22" r="2.10" fill="#fff" stroke="#1c1a1a" stroke-width="1.0"/>
<circle cx="528.00" cy="239.32" r="2.10" fill="#fff" stroke="#1c1a1a" stroke-width="1.0"/>
<circle cx="548.40" cy="247.20" r="2.10" fill="#fff" stroke="#1c1a1a" stroke-width="1.0"/>
<circle cx="567.00" cy="240.22" r="2.10" fill="#fff" stroke="#1c1a1a" stroke-width="1.0"/>
<path d="M553.9,193.3 L556.6,198.0 L551.2,198.0 Z" fill="none" stroke="#333" stroke-width="0.7"/>
<path d="M516.20,195.50 H527.00" stroke="#1c1a1a" stroke-width="1.2"/>
<circle cx="521.60" cy="195.50" r="2.10" fill="none" stroke="#1c1a1a" stroke-width="1.0"/>
<text transform="translate(533.40,198.00) scale(1,1.1)" font-size="7" fill="#262626">Smo<tspan dx="9.2">CRD</tspan></text>
<g stroke="#5a5a5a" stroke-width="0.9" fill="none">
<path d="M628.80,294.40 V184.36"/>
<path d="M628.80,294.40 H782.45" />
<path d="M628.80,294.40 v3.2"/>
<path d="M672.70,294.40 v3.2"/>
<path d="M716.60,294.40 v3.2"/>
<path d="M760.50,294.40 v3.2"/>
<path d="M628.80,294.40 h-3.0"/>
<path d="M628.80,276.06 h-3.0"/>
<path d="M628.80,257.72 h-3.0"/>
<path d="M628.80,239.38 h-3.0"/>
<path d="M628.80,221.04 h-3.0"/>
<path d="M628.80,202.70 h-3.0"/>
<path d="M628.80,184.36 h-3.0"/>
</g>
<g fill="#262626" font-size="6.9" font-weight="normal" text-anchor="middle">
<text transform="translate(628.80,305.80) scale(1,1.1)">-3</text>
<text transform="translate(672.70,305.80) scale(1,1.1)">-2</text>
<text transform="translate(716.60,305.80) scale(1,1.1)">-1</text>
<text transform="translate(760.50,305.80) scale(1,1.1)">0</text>
</g>
<g fill="#262626" font-size="6.9" font-weight="normal" text-anchor="end">
<text transform="translate(625.20,296.33) scale(1,1.1)">0.0</text>
<text transform="translate(625.20,277.99) scale(1,1.1)">0.2</text>
<text transform="translate(625.20,259.65) scale(1,1.1)">0.4</text>
<text transform="translate(625.20,241.31) scale(1,1.1)">0.6</text>
<text transform="translate(625.20,222.97) scale(1,1.1)">0.8</text>
<text transform="translate(625.20,204.63) scale(1,1.1)">1.0</text>
<text transform="translate(625.20,186.29) scale(1,1.1)">1.2</text>
</g>
<text transform="translate(610.40,237.60) rotate(-90)" text-anchor="middle" font-size="8.6" fill="#262626">Relative luciferase activity</text>
<text transform="translate(719.30,320.00) scale(1,1.1)" text-anchor="middle" font-size="8.5" fill="#262626">Log [ABT-199] μM</text>
<text x="598.00" y="181.60" font-size="9.0" font-weight="bold" fill="#111">h</text>
<g stroke="#1c1a1a" stroke-width="0.65" fill="none">
<path d="M628.80,211.96 V193.44 M626.90,193.44 h3.8 M626.90,211.96 h3.8"/>
<path d="M672.70,213.34 V199.31 M670.80,199.31 h3.8 M670.80,213.34 h3.8"/>
<path d="M693.64,228.10 V216.64 M691.74,216.64 h3.8 M691.74,228.10 h3.8"/>
<path d="M716.60,238.28 V229.11 M714.70,229.11 h3.8 M714.70,238.28 h3.8"/>
<path d="M737.54,268.17 V256.71 M735.64,256.71 h3.8 M735.64,268.17 h3.8"/>
<path d="M760.50,281.75 V270.74 M758.60,270.74 h3.8 M758.60,281.75 h3.8"/>
<path d="M781.44,291.10 V285.96 M779.54,285.96 h3.8 M779.54,291.10 h3.8"/>
</g>
<path d="M628.80,202.72 L630.73,202.81 L632.66,202.92 L634.60,203.04 L636.53,203.16 L638.46,203.30 L640.39,203.45 L642.33,203.62 L644.26,203.80 L646.19,203.99 L648.12,204.21 L650.05,204.44 L651.99,204.69 L653.92,204.97 L655.85,205.27 L657.78,205.59 L659.71,205.94 L661.65,206.33 L663.58,206.74 L665.51,207.20 L667.44,207.68 L669.38,208.21 L671.31,208.78 L673.24,209.40 L675.17,210.06 L677.10,210.78 L679.04,211.54 L680.97,212.37 L682.90,213.25 L684.83,214.20 L686.76,215.21 L688.70,216.28 L690.63,217.42 L692.56,218.64 L694.49,219.92 L696.43,221.28 L698.36,222.70 L700.29,224.20 L702.22,225.77 L704.15,227.40 L706.09,229.10 L708.02,230.86 L709.95,232.68 L711.88,234.55 L713.81,236.47 L715.75,238.44 L717.68,240.43 L719.61,242.45 L721.54,244.49 L723.48,246.54 L725.41,248.60 L727.34,250.64 L729.27,252.67 L731.20,254.68 L733.14,256.66 L735.07,258.61 L737.00,260.50 L738.93,262.35 L740.87,264.14 L742.80,265.88 L744.73,267.54 L746.66,269.15 L748.59,270.68 L750.53,272.14 L752.46,273.53 L754.39,274.85 L756.32,276.10 L758.25,277.28 L760.19,278.39 L762.12,279.44 L764.05,280.41 L765.98,281.33 L767.92,282.18 L769.85,282.98 L771.78,283.72 L773.71,284.41 L775.64,285.05 L777.58,285.65 L779.51,286.20 L781.44,286.70" stroke="#1c1a1a" stroke-width="1.5" fill="none"/>
<circle cx="628.80" cy="202.61" r="2.10" fill="#fff" stroke="#1c1a1a" stroke-width="1.0"/>
<circle cx="649.74" cy="194.17" r="2.10" fill="#fff" stroke="#1c1a1a" stroke-width="1.0"/>
<circle cx="672.70" cy="206.37" r="2.10" fill="#fff" stroke="#1c1a1a" stroke-width="1.0"/>
<circle cx="693.64" cy="222.23" r="2.10" fill="#fff" stroke="#1c1a1a" stroke-width="1.0"/>
<circle cx="716.60" cy="233.69" r="2.10" fill="#fff" stroke="#1c1a1a" stroke-width="1.0"/>
<circle cx="737.54" cy="262.58" r="2.10" fill="#fff" stroke="#1c1a1a" stroke-width="1.0"/>
<circle cx="760.50" cy="276.61" r="2.10" fill="#fff" stroke="#1c1a1a" stroke-width="1.0"/>
<circle cx="781.44" cy="288.62" r="2.10" fill="#fff" stroke="#1c1a1a" stroke-width="1.0"/>
<path d="M735.80,194.20 H746.50" stroke="#1c1a1a" stroke-width="1.2"/>
<circle cx="741.15" cy="194.20" r="2.10" fill="none" stroke="#1c1a1a" stroke-width="1.0"/>
<text transform="translate(752.40,196.70) scale(1,1.1)" font-size="7" fill="#262626">Smo <tspan style="font-style:italic">Δ</tspan>C</text>
</g>
</svg></div></body></html>
